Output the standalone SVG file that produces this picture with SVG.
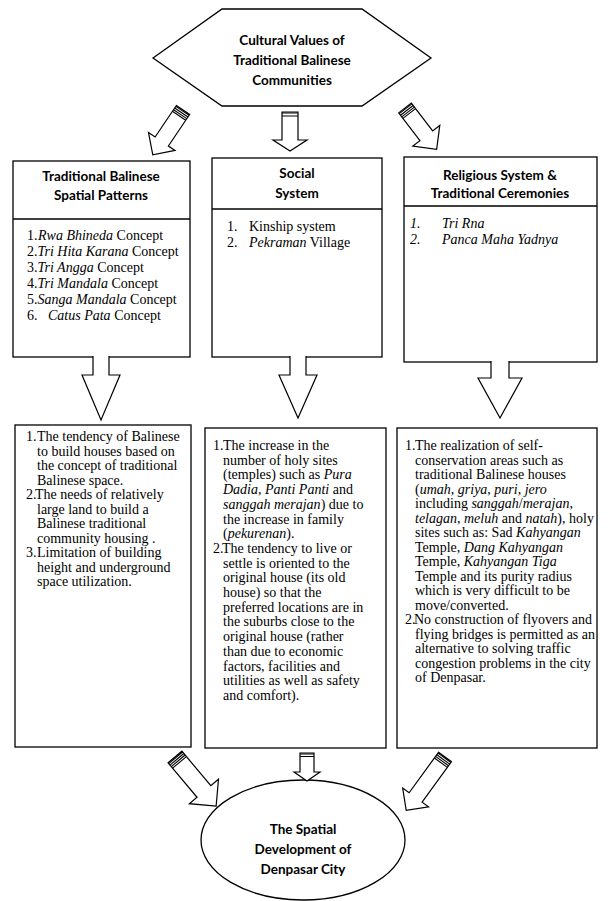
<svg xmlns="http://www.w3.org/2000/svg" width="608" height="901" viewBox="0 0 608 901">
<style>
.box{fill:#fff;stroke:#000;stroke-width:1.3}
.sep{stroke:#000;stroke-width:1.3}
.hd{font-family:Lato,"Liberation Sans",sans-serif;font-weight:bold;font-size:13.5px;text-anchor:middle;fill:#000}
.tx{font-family:"Liberation Serif",serif;font-size:14px;fill:#000}
.it{font-style:italic}
.arr{fill:#fff;stroke:#000;stroke-width:1.2;stroke-linejoin:miter}
.st{stroke:#000;stroke-width:1.1}
</style>
<rect width="608" height="901" fill="#fff"/>

<g id="hex">
<polygon class="box" points="153,58 222,9 362,9 431,58 362,106 222,106"/>
<text class="hd"><tspan x="292" y="45">Cultural Values of</tspan><tspan x="292" y="65">Traditional Balinese</tspan><tspan x="292" y="85">Communities</tspan></text>
</g>

<g id="box-spatial">
<rect class="box" x="13" y="161" width="177" height="196"/>
<line class="sep" x1="13" y1="219" x2="190" y2="219"/>
<text class="hd"><tspan x="101" y="181">Traditional Balinese</tspan><tspan x="101" y="200">Spatial Patterns</tspan></text>
<text class="tx">
<tspan x="27" y="240">1.</tspan><tspan x="38" class="it">Rwa Bhineda</tspan><tspan> Concept</tspan>
<tspan x="27" y="256">2.</tspan><tspan class="it">Tri Hita Karana</tspan><tspan>  Concept</tspan>
<tspan x="27" y="272">3.</tspan><tspan class="it">Tri Angga</tspan><tspan> Concept</tspan>
<tspan x="27" y="288">4.</tspan><tspan class="it">Tri Mandala</tspan><tspan> Concept</tspan>
<tspan x="27" y="304">5.</tspan><tspan class="it">Sanga Mandala</tspan><tspan> Concept</tspan>
<tspan x="27" y="320">6.</tspan><tspan x="48" class="it">Catus Pata</tspan><tspan> Concept</tspan>
</text>
</g>

<g id="box-social">
<rect class="box" x="212" y="158" width="170" height="199"/>
<line class="sep" x1="212" y1="209" x2="382" y2="209"/>
<text class="hd"><tspan x="297" y="178">Social</tspan><tspan x="297" y="198">System</tspan></text>
<text class="tx">
<tspan x="227" y="231">1.</tspan><tspan x="249">Kinship system</tspan>
<tspan x="227" y="247">2.</tspan><tspan x="249" class="it">Pekraman</tspan><tspan> Village</tspan>
</text>
</g>

<g id="box-religious">
<rect class="box" x="404" y="157" width="193" height="205"/>
<line class="sep" x1="404" y1="206" x2="597" y2="206"/>
<text class="hd"><tspan x="500" y="180">Religious System &amp;</tspan><tspan x="500" y="198">Traditional Ceremonies</tspan></text>
<text class="tx it">
<tspan x="410" y="228">1.</tspan><tspan x="442">Tri Rna</tspan>
<tspan x="410" y="244">2.</tspan><tspan x="442">Panca Maha Yadnya</tspan>
</text>
</g>

<g id="effect-spatial">
<rect class="box" x="15" y="425" width="176" height="322"/>
<text class="tx">
<tspan x="26" y="441">1.</tspan><tspan x="37">The tendency of Balinese</tspan>
<tspan x="37" y="455.5">to build houses based on</tspan>
<tspan x="37" y="470">the concept of traditional</tspan>
<tspan x="37" y="484.5">Balinese space.</tspan>
<tspan x="26" y="499">2.</tspan><tspan x="35">The needs of relatively</tspan>
<tspan x="37" y="513.5">large land to build a</tspan>
<tspan x="37" y="528">Balinese traditional</tspan>
<tspan x="37" y="542.5">community housing .</tspan>
<tspan x="26" y="557">3.</tspan><tspan x="37">Limitation of building</tspan>
<tspan x="37" y="571.5">height and underground</tspan>
<tspan x="37" y="586">space utilization.</tspan>
</text>
</g>

<g id="effect-social">
<rect class="box" x="205" y="428" width="181" height="320"/>
<text class="tx">
<tspan x="213" y="450">1.</tspan><tspan x="223">The increase in the</tspan>
<tspan x="223" y="464.7">number of holy sites</tspan>
<tspan x="223" y="479.4">(temples) such as </tspan><tspan class="it">Pura</tspan>
<tspan x="223" y="494.1" class="it">Dadia, Panti Panti</tspan><tspan> and</tspan>
<tspan x="223" y="508.8" class="it">sanggah merajan</tspan><tspan>) due to</tspan>
<tspan x="223" y="523.5">the increase in family</tspan>
<tspan x="223" y="538.2">(</tspan><tspan class="it">pekurenan</tspan><tspan>).</tspan>
<tspan x="213" y="552.9">2.</tspan><tspan x="222">The tendency to live or</tspan>
<tspan x="223" y="567.6">settle is oriented to the</tspan>
<tspan x="223" y="582.3">original house (its old</tspan>
<tspan x="223" y="597">house) so that the</tspan>
<tspan x="223" y="611.7">preferred locations are in</tspan>
<tspan x="223" y="626.4">the suburbs close to the</tspan>
<tspan x="223" y="641.1">original house (rather</tspan>
<tspan x="223" y="655.8">than due to economic</tspan>
<tspan x="223" y="670.5">factors, facilities and</tspan>
<tspan x="223" y="685.2">utilities as well  as safety</tspan>
<tspan x="223" y="699.9">and comfort).</tspan>
</text>
</g>

<g id="effect-religious">
<rect class="box" x="397" y="428" width="200" height="320"/>
<text class="tx">
<tspan x="405" y="450">1.</tspan><tspan x="415">The realization of self-</tspan>
<tspan x="415" y="464.5">conservation areas such as</tspan>
<tspan x="415" y="479">traditional Balinese houses</tspan>
<tspan x="415" y="493.5">(</tspan><tspan class="it">umah</tspan><tspan>, </tspan><tspan class="it">griya</tspan><tspan>, </tspan><tspan class="it">puri</tspan><tspan>, </tspan><tspan class="it">jero</tspan>
<tspan x="415" y="508">including </tspan><tspan class="it">sanggah</tspan><tspan>/</tspan><tspan class="it">merajan</tspan><tspan>,</tspan>
<tspan x="415" y="522.5" class="it">telagan</tspan><tspan>, </tspan><tspan class="it">meluh</tspan><tspan> and </tspan><tspan class="it">natah</tspan><tspan>), holy</tspan>
<tspan x="415" y="537">sites such as: Sad  </tspan><tspan class="it">Kahyangan</tspan>
<tspan x="415" y="551.5">Temple, </tspan><tspan class="it">Dang Kahyangan</tspan>
<tspan x="415" y="566">Temple, </tspan><tspan class="it">Kahyangan Tiga</tspan>
<tspan x="415" y="580.5">Temple and its purity radius</tspan>
<tspan x="415" y="595">which is very difficult to be</tspan>
<tspan x="415" y="609.5">move/converted.</tspan>
<tspan x="405" y="624">2.</tspan><tspan x="414">No construction of flyovers and</tspan>
<tspan x="415" y="638.5">flying bridges is permitted as an</tspan>
<tspan x="415" y="653">alternative to solving traffic</tspan>
<tspan x="415" y="667.5">congestion problems in the city</tspan>
<tspan x="415" y="682">of Denpasar.</tspan>
</text>
</g>

<g id="result">
<ellipse class="box" cx="303" cy="840" rx="102" ry="60"/>
<text class="hd"><tspan x="303" y="834">The Spatial</tspan><tspan x="303" y="854">Development of</tspan><tspan x="303" y="874">Denpasar City</tspan></text>
</g>

<g id="connectors">
<g transform="translate(183,110) rotate(34)">
<path class="arr" d="M -8 0 H 8 V 38 H 16 L 0 54 L -16 38 H -8 Z"/>
<path class="st" d="M -8 1 H 8 M -8 3 H 8 M -8 5 H 8 M -8 7 H 8"/>
</g>
<g transform="translate(290,112)">
<path class="arr" d="M -8 0 H 8 V 28 H 17 L 0 39 L -17 28 H -8 Z"/>
<path class="st" d="M -8 1 H 8 M -8 4 H 8"/>
</g>
<g transform="translate(405,108) rotate(-37.5)">
<path class="arr" d="M -8 0 H 8 V 35 H 17 L 0 52 L -17 35 H -8 Z"/>
<path class="st" d="M -8 1 H 8 M -8 3 H 8 M -8 5 H 8 M -8 7 H 8"/>
</g>
<path class="arr" transform="translate(101,357)" d="M -8 -1 V 18 H -19 L 0 63 L 19 18 H 8 V -1"/>
<path class="arr" transform="translate(298,357)" d="M -8 -1 V 18 H -19 L 0 61 L 19 18 H 8 V -1"/>
<path class="arr" transform="translate(500,362)" d="M -9 -1 V 16 H -22 L 0 56 L 22 16 H 9 V -1"/>
<g transform="translate(175,757) rotate(-40)">
<path class="arr" d="M -9 0 H 9 V 45 H 19 L 0 64 L -19 45 H -9 Z"/>
<path class="st" d="M -9 1 H 9 M -9 3 H 9 M -9 5 H 9 M -9 7 H 9"/>
</g>
<g transform="translate(307,753)">
<path class="arr" d="M -7 0 H 7 V 19 H 13 L 0 28 L -13 19 H -7 Z"/>
<path class="st" d="M -7 1 H 7 M -7 3.5 H 7"/>
</g>
<g transform="translate(445,757) rotate(36)">
<path class="arr" d="M -8 0 H 8 V 50 H 16 L 0 66 L -16 50 H -8 Z"/>
<path class="st" d="M -8 1 H 8 M -8 3 H 8 M -8 5 H 8 M -8 7 H 8"/>
</g>
</g>
</svg>
